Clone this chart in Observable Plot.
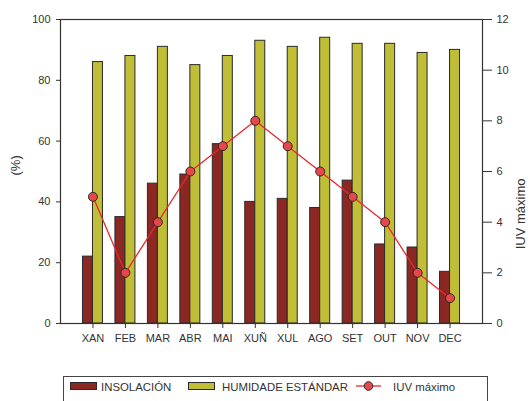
<!DOCTYPE html>
<html>
<head>
<meta charset="utf-8">
<script src="https://cdn.jsdelivr.net/npm/d3@7"></script>
<script src="https://cdn.jsdelivr.net/npm/@observablehq/plot@0.6"></script>
<style>
  body { margin: 0; background: #fff; font-family: "Liberation Sans", Arial, sans-serif; }
  #chart svg { display: block; }
  #legend { display: block; }
</style>
</head>
<body>
<div id="chart"></div>
<svg id="legend" width="530" height="36"></svg>
<script>
const months = ["XAN","FEB","MAR","ABR","MAI","XUÑ","XUL","AGO","SET","OUT","NOV","DEC"];
const insolacion = [22, 35, 46, 49, 59, 40, 41, 38, 47, 26, 25, 17];
const humidade = [86, 88, 91, 85, 88, 93, 91, 94, 92, 92, 89, 90];
const iuv = [5, 2, 4, 6, 7, 8, 7, 6, 5, 4, 2, 1];
const leftTicks = [0, 20, 40, 60, 80, 100];
const rightTicks = [0, 2, 4, 6, 8, 10, 12];
const seriesNames = ["INSOLACIÓN", "HUMIDADE ESTÁNDAR", "IUV máximo"];
const yLabelLeft = "(%)";
const yLabelRight = "IUV máximo";

const colInsol = "#8b2824";
const colHum = "#bfbe36";
const colLine = "#e8282c";
const colDot = "#e8474a";
const edge = "#2a2a2a";

const rows = months.map((m, i) => ({m, ins: insolacion[i], hum: humidade[i], uv: iuv[i] * 100 / 12}));

const chart = Plot.plot({
  width: 530,
  height: 365,
  marginLeft: 60,
  marginRight: 48,
  marginTop: 19,
  marginBottom: 42,
  style: {fontFamily: "Liberation Sans, Arial, sans-serif", fontSize: "11px", color: "#333", background: "#fff"},
  x: {type: "band", domain: months, paddingInner: 0.384, paddingOuter: 0.692, round: false},
  y: {domain: [0, 100]},
  marks: [
    Plot.barY(rows, {x: "m", y: "ins", fill: colInsol, stroke: edge, strokeWidth: 1, insetRight: 10}),
    Plot.barY(rows, {x: "m", y: "hum", fill: colHum, stroke: edge, strokeWidth: 1, insetLeft: 10}),
    Plot.line(rows, {x: "m", y: "uv", stroke: colLine, strokeWidth: 1.3}),
    Plot.dot(rows, {x: "m", y: "uv", r: 4.5, fill: colDot, stroke: edge, strokeWidth: 1}),
    Plot.frame({stroke: "#333", strokeWidth: 1.2}),
    Plot.axisX({tickSize: 5, tickPadding: 6, fontSize: 11, label: null, stroke: "#333", fill: "#333"}),
    Plot.axisY(leftTicks, {anchor: "left", tickSize: 4, tickPadding: 6, fontSize: 11, fill: "#333", label: null}),
    Plot.axisY(rightTicks.map(t => t * 100 / 12), {anchor: "right", tickSize: 9, tickPadding: 5, fontSize: 11, fill: "#333",
      tickFormat: d => String(Math.round(d * 12 / 100)), label: null}),
    Plot.text([yLabelLeft], {frameAnchor: "left", dx: -45, dy: 4, rotate: -90, fontSize: 13, fill: "#333", text: d => d}),
    Plot.text([yLabelRight], {frameAnchor: "right", dx: 38, dy: 7, rotate: -90, fontSize: 13, fill: "#333", text: d => d})
  ]
});
document.getElementById("chart").appendChild(chart);

// Legend
const lg = d3.select("#legend");
lg.append("rect").attr("x", 63.5).attr("y", 11.5).attr("width", 424).attr("height", 34)
  .attr("fill", "#fff").attr("stroke", "#444").attr("stroke-width", 1);
const ty = 24;
lg.append("rect").attr("x", 70.5).attr("y", ty - 6.5).attr("width", 26).attr("height", 7)
  .attr("fill", colInsol).attr("stroke", edge);
lg.append("text").attr("x", 101).attr("y", ty + 1.8).text(seriesNames[0]);
lg.append("rect").attr("x", 188.5).attr("y", ty - 6.5).attr("width", 26).attr("height", 7)
  .attr("fill", colHum).attr("stroke", edge);
lg.append("text").attr("x", 222).attr("y", ty + 1.8).text(seriesNames[1]);
lg.append("line").attr("x1", 356).attr("x2", 381).attr("y1", ty - 3).attr("y2", ty - 3)
  .attr("stroke", colLine).attr("stroke-width", 1.3);
lg.append("circle").attr("cx", 368.5).attr("cy", ty - 3).attr("r", 4.3)
  .attr("fill", colDot).attr("stroke", edge);
lg.append("text").attr("x", 393).attr("y", ty + 1.8).text(seriesNames[2]);
lg.selectAll("text").attr("font-size", 11.4).attr("fill", "#333")
  .attr("font-family", "Liberation Sans, Arial, sans-serif");
</script>
</body>
</html>
